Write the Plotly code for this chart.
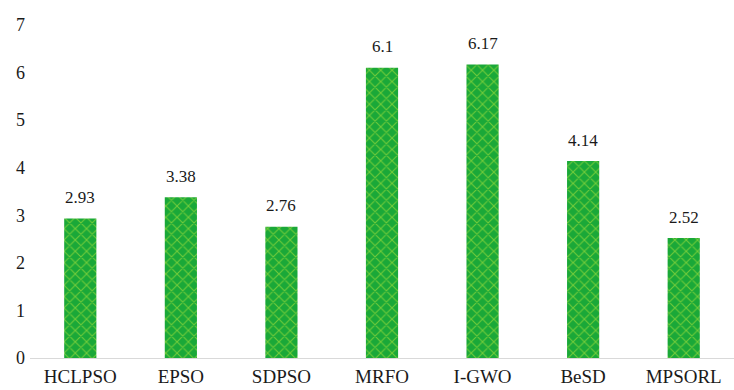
import plotly.graph_objects as go

algorithms = ["HCLPSO", "EPSO", "SDPSO", "MRFO", "I-GWO", "BeSD", "MPSORL"]
scores = [2.93, 3.38, 2.76, 6.1, 6.17, 4.14, 2.52]
score_labels = ["2.93", "3.38", "2.76", "6.1", "6.17", "4.14", "2.52"]
y_ticks = [0, 1, 2, 3, 4, 5, 6, 7]

SERIF = "Liberation Serif"
TEXT = "#1a1a1a"

fig = go.Figure(
    go.Bar(
        x=algorithms,
        y=scores,
        marker=dict(
            color="#1aa838",
            line=dict(width=0),
            pattern=dict(shape="x", fgcolor="#c8ee3c", bgcolor="#1aa838",
                         size=8, solidity=0.25),
        ),
    )
)

# value labels sit a little above each bar
for name, val, lab in zip(algorithms, scores, score_labels):
    fig.add_annotation(
        x=name, y=val, text=lab, showarrow=False,
        yanchor="middle", yshift=21,
        font=dict(family=SERIF, size=17, color=TEXT),
    )

fig.update_layout(
    width=734,
    height=390,
    margin=dict(l=30, r=0, t=25, b=32),
    paper_bgcolor="white",
    plot_bgcolor="white",
    bargap=0.68,
    showlegend=False,
    font=dict(family=SERIF, size=17, color=TEXT),
    xaxis=dict(
        showgrid=False,
        showline=True,
        linecolor="#d9d9d9",
        linewidth=1,
        ticks="",
        automargin=False,
        ticklabelstandoff=1,
        tickfont=dict(family=SERIF, size=19, color=TEXT),
    ),
    yaxis=dict(
        range=[0, 7],
        tickvals=y_ticks,
        showgrid=False,
        zeroline=False,
        showline=False,
        ticks="",
        automargin=False,
        ticklabelstandoff=4,
        tickfont=dict(family=SERIF, size=18, color=TEXT),
    ),
)

fig.write_html("out.html")
